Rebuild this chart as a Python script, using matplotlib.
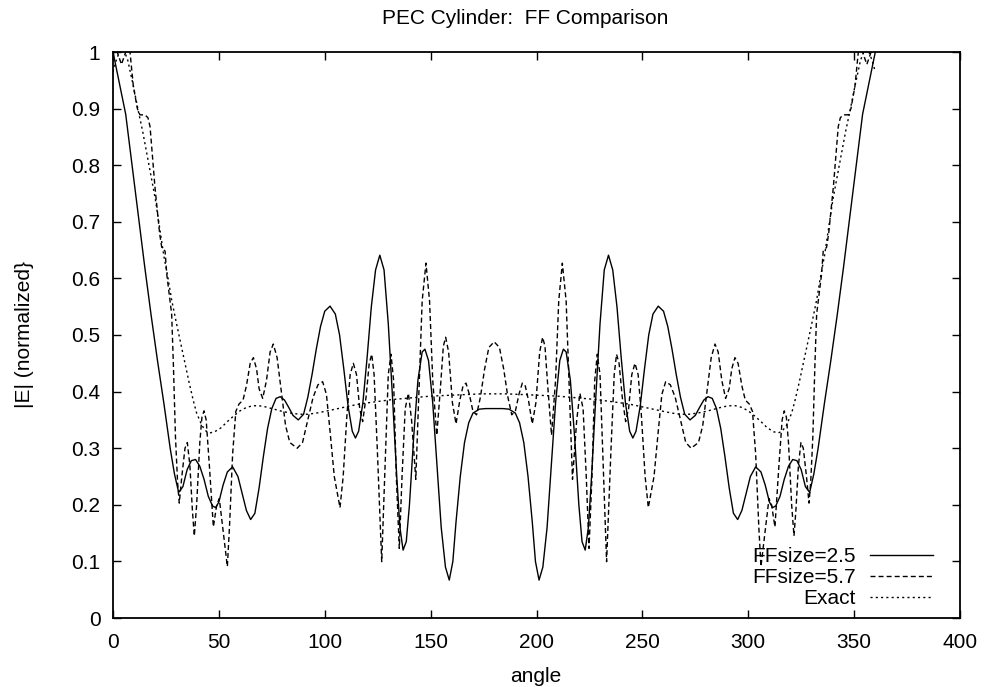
import matplotlib
matplotlib.use('Agg')
import matplotlib.pyplot as plt

plt.rcParams['font.family'] = ['Liberation Sans', 'DejaVu Sans']
plt.rcParams['lines.scale_dashes'] = False

# FFsize=2.5 (solid)
ff25_angle = [0, 3, 6, 9, 12, 15, 18, 21, 24, 27, 29, 31, 33, 35, 37, 39, 41, 43, 45, 47,
              48.5, 50, 52, 54, 56.5, 59, 61, 63, 65, 67, 69, 71, 73, 75, 77, 79, 81, 83, 85, 87.5,
              90, 92, 94, 96, 98, 100, 102.5, 105, 107, 109, 111, 113, 114.5, 116, 118, 120, 122, 124, 126, 128,
              130, 132, 134, 135.5, 137, 138.5, 140, 142, 144, 146, 147.3, 149, 151, 153, 155, 157, 158.8, 160.5, 162, 164,
              166, 168, 170, 173, 176, 180,
              184, 187, 190, 192, 194, 196, 198, 199.5, 201.2, 203, 205, 207, 209, 211, 212.7, 214, 216, 218, 220, 221.5,
              223, 224.5, 226, 228, 230, 232, 234, 236, 238, 240, 242, 244, 245.5, 247, 249, 251, 253, 255, 257.5, 260,
              262, 264, 266, 268, 270, 272.5, 275, 277, 279, 281, 283, 285, 287, 289, 291, 293, 295, 297, 299, 301,
              303.5, 306, 308, 310, 311.5, 313, 315, 317, 319, 321, 323, 325, 327, 329, 331, 333, 336, 339, 342, 345,
              348, 351, 354, 357, 360]
ff25_val = [1.0, 0.945, 0.89, 0.80, 0.71, 0.62, 0.535, 0.455, 0.38, 0.30, 0.255, 0.222, 0.232, 0.262, 0.278, 0.28, 0.268, 0.245, 0.215, 0.198,
            0.195, 0.205, 0.235, 0.258, 0.267, 0.25, 0.22, 0.19, 0.174, 0.185, 0.23, 0.285, 0.335, 0.37, 0.388, 0.391, 0.385, 0.372, 0.358, 0.35,
            0.36, 0.39, 0.43, 0.475, 0.515, 0.542, 0.551, 0.537, 0.5, 0.44, 0.375, 0.33, 0.318, 0.33, 0.38, 0.46, 0.55, 0.615, 0.641, 0.615,
            0.52, 0.39, 0.25, 0.16, 0.12, 0.135, 0.2, 0.32, 0.42, 0.47, 0.475, 0.455, 0.38, 0.27, 0.16, 0.09, 0.067, 0.1, 0.17, 0.25,
            0.31, 0.345, 0.362, 0.369, 0.37, 0.37,
            0.37, 0.369, 0.362, 0.345, 0.31, 0.25, 0.17, 0.1, 0.067, 0.09, 0.16, 0.27, 0.38, 0.455, 0.475, 0.47, 0.42, 0.32, 0.2, 0.135,
            0.12, 0.16, 0.25, 0.39, 0.52, 0.615, 0.641, 0.615, 0.55, 0.46, 0.38, 0.33, 0.318, 0.33, 0.375, 0.44, 0.5, 0.537, 0.551, 0.542,
            0.515, 0.475, 0.43, 0.39, 0.36, 0.35, 0.358, 0.372, 0.385, 0.391, 0.388, 0.37, 0.335, 0.285, 0.23, 0.185, 0.174, 0.19, 0.22, 0.25,
            0.267, 0.258, 0.235, 0.205, 0.195, 0.198, 0.215, 0.245, 0.268, 0.28, 0.278, 0.262, 0.232, 0.222, 0.255, 0.30, 0.38, 0.455, 0.535, 0.62,
            0.71, 0.80, 0.89, 0.945, 1.0]

# FFsize=5.7 (dashed)
ff57_angle = [0, 2, 4, 6, 7.5, 9.6, 11.5, 12.7, 15, 16.5, 17.5, 19.8, 22, 23, 24.6, 25.4, 27.7, 28.5, 29.5, 30.5,
              31.3, 32.5, 34, 35.1, 36.3, 37.5, 38.4, 39.5, 41, 42, 43, 44, 45.5, 47.4, 49, 50.2, 51.5, 54, 55, 56.5,
              58, 59.5, 61.4, 63, 64.8, 66.3, 67.8, 69, 70.7, 72.5, 74.2, 75.7, 77.5, 79.5, 81.5, 83.5, 87, 89.5, 92, 94.5,
              96.8, 99, 100.8, 102.5, 104.5, 107.2, 108.7, 110.5, 112, 113.5, 115, 116.5, 117.9, 119.5, 121, 122.2, 123.3, 124.8, 126.9, 128.8,
              130, 131.3, 132.5, 133.8, 135.2, 136.5, 138, 139.5, 141, 143, 144.5, 146, 147.8, 149.5, 151, 152.9, 154.5, 156, 157.1, 158.5,
              160.3, 162, 163.8, 165.3, 166.7, 168.3, 170, 171.7, 173.5, 175.5, 177.5, 180,
              182.5, 184.5, 186.5, 188.3, 190, 191.7, 193.3, 194.7, 196.2, 198, 199.7, 201.5, 202.9, 204, 205.5, 207.1, 209, 210.5, 212.2, 214,
              215.5, 217, 219, 220.5, 222, 223.5, 224.8, 226.2, 227.5, 228.7, 230, 231.2, 233.1, 235.2, 236.7, 237.8, 239, 240.5, 242.1, 243.5,
              245, 246.5, 248, 249.5, 251.3, 252.8, 255.5, 257.5, 259.2, 261, 263.2, 265.5, 268, 270.5, 273, 276.5, 278.5, 280.5, 282.5, 284.3,
              285.8, 287.5, 289.3, 291, 292.2, 293.7, 295.2, 297, 298.6, 300.5, 302, 303.5, 305, 306, 308.5, 309.8, 311, 312.6, 314.5, 316,
              317, 318, 319, 320.5, 321.6, 322.5, 323.7, 324.9, 326, 327.5, 328.7, 329.5, 330.5, 331.5, 332.3, 334.6, 335.4, 337, 338, 340.2,
              342.5, 343.5, 345, 347.3, 348.5, 350.4, 352.5, 354, 356, 358, 360]
ff57_val = [1.03, 1.0, 0.978, 1.0, 1.02, 0.94, 0.9, 0.889, 0.889, 0.884, 0.868, 0.762, 0.68, 0.655, 0.648, 0.607, 0.537, 0.45, 0.32, 0.24,
            0.203, 0.25, 0.3, 0.31, 0.27, 0.19, 0.145, 0.2, 0.31, 0.355, 0.366, 0.35, 0.27, 0.161, 0.2, 0.211, 0.17, 0.091, 0.16, 0.29,
            0.365, 0.378, 0.385, 0.41, 0.45, 0.46, 0.44, 0.405, 0.388, 0.42, 0.47, 0.484, 0.46, 0.4, 0.34, 0.31, 0.30, 0.31, 0.35, 0.39,
            0.412, 0.4175, 0.395, 0.33, 0.25, 0.195, 0.25, 0.36, 0.43, 0.45, 0.43, 0.37, 0.347, 0.39, 0.45, 0.466, 0.43, 0.3, 0.0995, 0.3,
            0.43, 0.466, 0.42, 0.25, 0.123, 0.25, 0.37, 0.397, 0.35, 0.245, 0.4, 0.56, 0.627, 0.56, 0.42, 0.323, 0.4, 0.48, 0.496, 0.47,
            0.38, 0.343, 0.385, 0.41, 0.415, 0.395, 0.365, 0.359, 0.39, 0.44, 0.478, 0.488,
            0.478, 0.44, 0.39, 0.359, 0.365, 0.395, 0.415, 0.41, 0.385, 0.343, 0.38, 0.47, 0.496, 0.48, 0.4, 0.323, 0.42, 0.56, 0.627, 0.56,
            0.4, 0.245, 0.35, 0.397, 0.37, 0.25, 0.123, 0.25, 0.42, 0.466, 0.43, 0.3, 0.0995, 0.3, 0.43, 0.466, 0.45, 0.39, 0.347, 0.37,
            0.43, 0.45, 0.43, 0.36, 0.25, 0.195, 0.25, 0.33, 0.395, 0.4175, 0.412, 0.39, 0.35, 0.31, 0.30, 0.31, 0.34, 0.4, 0.46, 0.484,
            0.47, 0.42, 0.388, 0.405, 0.44, 0.46, 0.45, 0.41, 0.385, 0.378, 0.365, 0.29, 0.16, 0.091, 0.17, 0.211, 0.2, 0.161, 0.27, 0.35,
            0.366, 0.355, 0.31, 0.2, 0.145, 0.19, 0.27, 0.31, 0.3, 0.25, 0.203, 0.24, 0.32, 0.45, 0.537, 0.607, 0.648, 0.655, 0.68, 0.762,
            0.868, 0.884, 0.889, 0.889, 0.9, 0.94, 1.02, 1.0, 0.978, 1.0, 1.03]

# Exact (dotted)
exact_angle = [0, 1.5, 3, 5, 7, 9.6, 12, 14, 16, 18, 20, 22, 24, 26, 27.7, 30, 32, 34, 36, 38,
               39.5, 42, 44, 45.8, 48, 51, 54, 57, 60, 63, 66, 69, 72, 76, 80, 84, 88, 92, 96, 100,
               105, 110, 115, 120, 126, 132, 138, 144, 150, 156, 162, 168, 174, 180,
               186, 192, 198, 204, 210, 216, 222, 228, 234, 240, 245, 250, 255, 260, 264, 268, 272, 276, 280, 284,
               288, 291, 294, 297, 300, 303, 306, 309, 312, 314.2, 316, 318, 320.5, 322, 324, 326, 328, 330, 332.3, 334,
               336, 338, 340, 342, 344, 346, 348, 350.4, 353, 355, 357, 358.5, 360]
exact_val = [0.965, 0.985, 1.0, 1.005, 0.985, 0.94, 0.895, 0.86, 0.82, 0.78, 0.74, 0.69, 0.64, 0.6, 0.562, 0.52, 0.485, 0.45, 0.415, 0.383,
             0.362, 0.34, 0.33, 0.327, 0.329, 0.336, 0.347, 0.357, 0.366, 0.372, 0.375, 0.375, 0.373, 0.369, 0.365, 0.362, 0.36, 0.36, 0.362, 0.365,
             0.369, 0.373, 0.377, 0.38, 0.383, 0.386, 0.388, 0.39, 0.392, 0.393, 0.394, 0.395, 0.396, 0.396,
             0.396, 0.395, 0.394, 0.393, 0.392, 0.39, 0.388, 0.386, 0.383, 0.38, 0.377, 0.373, 0.369, 0.365, 0.362, 0.36, 0.36, 0.362, 0.365, 0.369,
             0.373, 0.375, 0.375, 0.372, 0.366, 0.357, 0.347, 0.336, 0.329, 0.327, 0.33, 0.34, 0.362, 0.383, 0.415, 0.45, 0.485, 0.52, 0.562, 0.6,
             0.64, 0.69, 0.74, 0.78, 0.82, 0.86, 0.895, 0.94, 0.985, 1.005, 1.0, 0.985, 0.965]

x_ticks = [0, 50, 100, 150, 200, 250, 300, 350, 400]
y_ticks = [0, 0.1, 0.2, 0.3, 0.4, 0.5, 0.6, 0.7, 0.8, 0.9, 1]
y_tick_labels = ['0', '0.1', '0.2', '0.3', '0.4', '0.5', '0.6', '0.7', '0.8', '0.9', '1']

fs = 15
fig = plt.figure(figsize=(9.85, 6.87), dpi=100)
ax = fig.add_axes([113/985, 1-618/687, 847/985, 566/687])

ax.plot(ff25_angle, ff25_val, color='black', lw=1.0, ls='-', label='FFsize=2.5')
ax.plot(ff57_angle, ff57_val, color='black', lw=1.0, ls=(0, (3.6, 2.2)), label='FFsize=5.7')
ax.plot(exact_angle, exact_val, color='black', lw=1.0, ls=(0, (1.5, 2.3)), label='Exact')

ax.set_xlim(0, 400)
ax.set_ylim(0, 1)
ax.set_xticks(x_ticks)
ax.set_xticklabels([str(t) for t in x_ticks])
ax.set_yticks(y_ticks)
ax.set_yticklabels(y_tick_labels)
ax.tick_params(direction='in', length=6, width=1, top=True, right=True, labelsize=fs)
ax.tick_params(axis='x', pad=11)
ax.tick_params(axis='y', pad=9)
for s in ax.spines.values():
    s.set_linewidth(1.3)

fig.text(525/985, 1-19/687, 'PEC Cylinder:  FF Comparison', ha='center', va='center', fontsize=fs)
fig.text(536/985, 1-677/687, 'angle', ha='center', va='center', fontsize=fs)
fig.text(25/985, 1-335/687, '|E| (normalized}', ha='center', va='center', rotation=90, fontsize=fs)

ax.legend(loc='lower right', bbox_to_anchor=(0.968, 0.018), frameon=False, markerfirst=False,
          fontsize=fs, handlelength=3.0, handletextpad=0.7, labelspacing=0.08,
          borderpad=0, borderaxespad=0)

fig.savefig('out.png', dpi=100)
